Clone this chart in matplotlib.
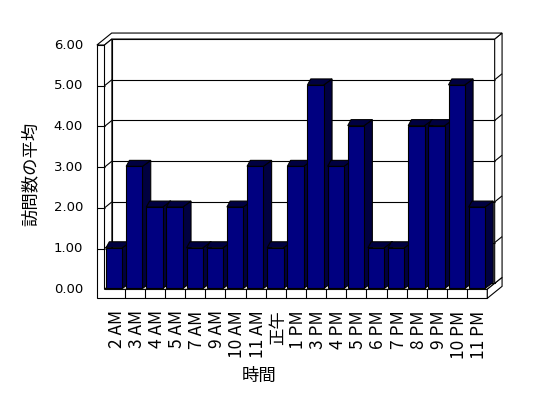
import matplotlib
matplotlib.use("Agg")
import matplotlib.pyplot as plt
from matplotlib.patches import Polygon
from matplotlib.transforms import offset_copy

hours = ["2 AM", "3 AM", "4 AM", "5 AM", "7 AM", "9 AM", "10 AM", "11 AM", "正午",
         "1 PM", "3 PM", "4 PM", "5 PM", "6 PM", "7 PM", "8 PM", "9 PM", "10 PM", "11 PM"]
visits = [1, 3, 2, 2, 1, 1, 2, 3, 1, 3, 5, 3, 4, 1, 1, 4, 4, 5, 2]
y_ticks = [0, 1, 2, 3, 4, 5, 6]
y_labels = ["0.00", "1.00", "2.00", "3.00", "4.00", "5.00", "6.00"]

plt.rcParams["font.family"] = ["Noto Sans CJK JP", "DejaVu Sans"]

fig = plt.figure(figsize=(5.48, 3.98), dpi=100)
ax = fig.add_axes([0.1907, 0.2731, 0.6985, 0.6138])
n = len(hours)
ymax = y_ticks[-1]
ax.set_xlim(0, n)
ax.set_ylim(0, ymax)
ax.axis("off")

# fake 3d: depth step and wall/floor thickness, in data units
dx, dy = 0.367, 0.147
wt, ft = 0.377, 0.221
LW = 0.8


def line(xs, ys, z=1):
    ax.plot(xs, ys, color="black", lw=LW, clip_on=False, zorder=z,
            solid_capstyle="butt")


def face(pts, color="white", z=1):
    ax.add_patch(Polygon(pts, closed=True, facecolor=color, edgecolor="black",
                         lw=LW, clip_on=False, zorder=z))


# left wall front + floor front
face([(-wt, -ft), (n, -ft), (n, 0), (0, 0), (0, ymax), (-wt, ymax)])
# floor top
face([(0, 0), (n, 0), (n + dx, dy), (dx, dy)])
# floor right side
face([(n, -ft), (n + 2 * dx, 2 * dy - ft), (n + 2 * dx, 2 * dy),
      (n + dx, dy), (n, 0)])
# back wall
face([(dx, dy), (n + dx, dy), (n + dx, ymax + dy), (dx, ymax + dy)])
# back wall right side
face([(n + dx, dy), (n + 2 * dx, 2 * dy), (n + 2 * dx, ymax + 2 * dy),
      (n + dx, ymax + dy)])
# top edges of the walls
face([(-wt, ymax), (0, ymax), (dx, ymax + dy), (n + dx, ymax + dy),
      (n + 2 * dx, ymax + 2 * dy), (-wt + 2 * dx, ymax + 2 * dy)])
# left wall inner face
face([(0, 0), (dx, dy), (dx, ymax + dy), (0, ymax)])

# category ticks on the floor front
for i in range(1, n):
    line([i, i], [-ft, 0])

# gridlines wrapping round the walls
for v in y_ticks[1:-1]:
    line([-wt, 0], [v, v])
    line([0, dx], [v, v + dy])
    line([dx, n + dx], [v + dy, v + dy])
    line([n + dx, n + 2 * dx], [v + dy, v + 2 * dy])

# bars
off, bw, base = 0.075, 0.81, 0.02
ls, rs, up = 0.164, 0.41, 0.147
for i, v in enumerate(visits):
    x0 = i + off
    x1 = x0 + bw
    y1 = v + base
    z = 3 + i * 0.01
    face([(x1, base), (x1 + rs, base + up), (x1 + rs, y1 + up), (x1, y1)],
         "#000040", z)
    face([(x0, y1), (x1, y1), (x1 + rs, y1 + up), (x0 + ls, y1 + up)],
         "#000040", z)
    face([(x0, base), (x1, base), (x1, y1), (x0, y1)], "#000080", z)

# tick labels
ytr = offset_copy(ax.transData, fig=fig, x=-14, y=0, units="dots")
for v, lab in zip(y_ticks, y_labels):
    ax.text(-wt, v, lab, transform=ytr, ha="right", va="center",
            fontsize=9.5, family=["DejaVu Sans"])

xtr = offset_copy(ax.transData, fig=fig, x=0, y=-12, units="dots")
for i, lab in enumerate(hours):
    ax.text(i + 0.6, -ft, lab, transform=xtr, rotation=90, ha="center",
            va="top", fontsize=12.5)

fig.text(0.0566, 0.563, "訪問数の平均", rotation=90, ha="center", va="center",
         fontsize=12.5)
fig.text(0.4726, 0.0553, "時間", ha="center", va="center", fontsize=12.5)

fig.savefig("out.png", dpi=100)
